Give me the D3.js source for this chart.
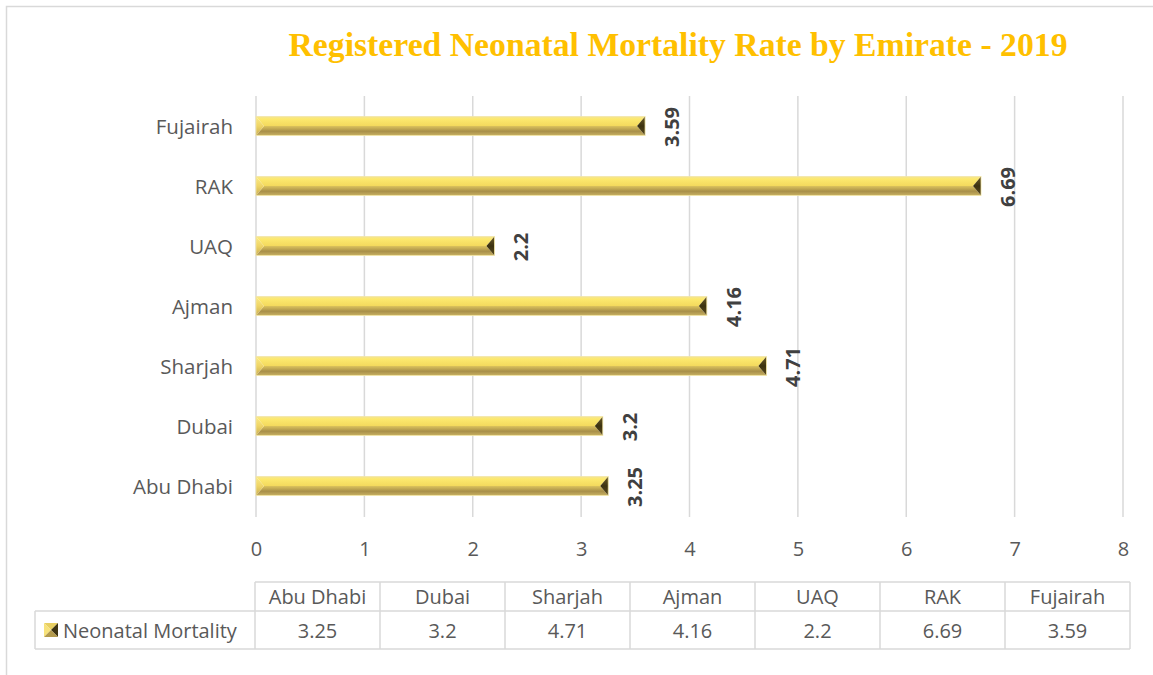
<!DOCTYPE html>
<html>
<head>
<meta charset="utf-8">
<script src="https://cdn.jsdelivr.net/npm/d3@7"></script>
<style>
  html, body { margin: 0; padding: 0; background: #ffffff; }
  svg { display: block; }
</style>
</head>
<body>
<svg id="chart" width="1153" height="675"></svg>
<script>
// ---- data ----
const categories = ["Abu Dhabi", "Dubai", "Sharjah", "Ajman", "UAQ", "RAK", "Fujairah"];
const values = [3.25, 3.2, 4.71, 4.16, 2.2, 6.69, 3.59];
const seriesName = "Neonatal Mortality";
const xTicks = [0, 1, 2, 3, 4, 5, 6, 7, 8];
const title = "Registered Neonatal Mortality Rate by Emirate - 2019";

const data = categories.map((c, i) => ({ cat: c, val: values[i] }));

const svg = d3.select("#chart");
const W = 1153, H = 675;
const FONT = "'Open Sans', 'Noto Sans', sans-serif";
const GRID = "#d9d9d9";
const TXT = "#595959";

// background + outer border
svg.append("rect").attr("x", 0).attr("y", 0).attr("width", W).attr("height", H).attr("fill", "#fff");
svg.append("rect").attr("x", 6.5).attr("y", 6.5).attr("width", W + 20).attr("height", H + 20)
  .attr("fill", "none").attr("stroke", GRID).attr("stroke-width", 1.5);

// defs: gradients
const defs = svg.append("defs");
function vgrad(id, stops) {
  const g = defs.append("linearGradient").attr("id", id)
    .attr("x1", 0).attr("y1", 0).attr("x2", 0).attr("y2", 1);
  stops.forEach(s => g.append("stop").attr("offset", s[0]).attr("stop-color", s[1]));
}
vgrad("topFace", [[0, "#f1e39c"], [0.25, "#fde96f"], [1, "#f3d95d"]]);
vgrad("botFace", [[0, "#dcc35c"], [0.55, "#a88f49"], [1, "#c9b263"]]);
vgrad("leftFace", [[0, "#fbea86"], [0.5, "#efd566"], [1, "#c8ad55"]]);
vgrad("rightFace", [[0, "#6b5a25"], [0.5, "#3c3210"], [1, "#5c4c1e"]]);

// title
svg.append("text")
  .attr("x", 678).attr("y", 56)
  .attr("text-anchor", "middle")
  .attr("font-family", "'Liberation Serif', 'DejaVu Serif', serif")
  .attr("font-weight", "bold")
  .attr("font-size", 33)
  .attr("fill", "#FFC000")
  .attr("textLength", 779)
  .attr("lengthAdjust", "spacingAndGlyphs")
  .text(title);

// scales
const x = d3.scaleLinear().domain([0, 8]).range([256, 1123]);
const y = d3.scaleBand().domain(categories.slice().reverse()).range([96, 516]).padding(0);
const barH = y.bandwidth() * 0.32;

// gridlines
svg.append("g").selectAll("line").data(xTicks).join("line")
  .attr("x1", d => x(d)).attr("x2", d => x(d))
  .attr("y1", 96).attr("y2", 517)
  .attr("stroke", GRID).attr("stroke-width", 1.5);

// x axis
const xAxis = svg.append("g").attr("transform", "translate(0,517)")
  .call(d3.axisBottom(x).tickValues(xTicks).tickFormat(d3.format("d")).tickSize(0).tickPadding(25));
xAxis.select(".domain").remove();
xAxis.selectAll("text").attr("font-family", FONT).attr("font-size", 20).attr("fill", TXT);

// y axis
const yAxis = svg.append("g").attr("transform", "translate(256,0)")
  .call(d3.axisLeft(y).tickSize(0).tickPadding(23));
yAxis.select(".domain").remove();
yAxis.selectAll("text").attr("font-family", FONT).attr("font-size", 20.5).attr("fill", TXT)
  .attr("dy", "0.4em");

// bars with bevel faces
function facePaths(x0, x1, y0, y1) {
  const ym = (y0 + y1) / 2;
  const b = Math.min(8, (x1 - x0) / 2);
  return {
    top: [[x0, y0], [x1, y0], [x1 - b, ym], [x0 + b, ym]],
    bot: [[x0 + b, ym], [x1 - b, ym], [x1, y1], [x0, y1]],
    left: [[x0, y0], [x0 + b, ym], [x0, y1]],
    right: [[x1, y0], [x1 - b, ym], [x1, y1]]
  };
}
const pts = p => p.map(q => q.join(",")).join(" ");

const bars = svg.append("g").selectAll("g").data(data).join("g");
bars.each(function (d) {
  const g = d3.select(this);
  const y0 = y(d.cat) + (y.bandwidth() - barH) / 2;
  const f = facePaths(x(0), x(d.val), y0, y0 + barH);
  g.append("polygon").attr("points", pts(f.top)).attr("fill", "url(#topFace)");
  g.append("polygon").attr("points", pts(f.bot)).attr("fill", "url(#botFace)");
  g.append("polygon").attr("points", pts(f.left)).attr("fill", "url(#leftFace)");
  g.append("polygon").attr("points", pts(f.right)).attr("fill", "url(#rightFace)");
  g.append("rect").attr("x", x(0)).attr("y", y0).attr("width", x(d.val) - x(0)).attr("height", barH)
    .attr("fill", "none").attr("stroke", "#f3e7a6").attr("stroke-width", 0.8);
});

// value labels (rotated)
svg.append("g").selectAll("text").data(data).join("text")
  .attr("transform", d => `translate(${x(d.val) + 27},${y(d.cat) + y.bandwidth() / 2 + 1}) rotate(-90)`)
  .attr("text-anchor", "middle")
  .attr("dy", "0.35em")
  .attr("font-family", FONT)
  .attr("font-weight", "bold")
  .attr("font-size", 20)
  .attr("fill", "#404040")
  .text(d => d.val);

// data table
const tx = d3.scaleBand().domain(categories).range([255, 1130]);
const rowTop = 582, rowMid = 611, rowBot = 649, tableLeft = 35;
const tbl = svg.append("g");
const line = (x1, y1, x2, y2) => tbl.append("line").attr("x1", x1).attr("y1", y1).attr("x2", x2).attr("y2", y2)
  .attr("stroke", GRID).attr("stroke-width", 1.5);
line(255, rowTop, 1130, rowTop);
line(tableLeft, rowMid, 1130, rowMid);
line(tableLeft, rowBot, 1130, rowBot);
line(tableLeft, rowMid, tableLeft, rowBot);
categories.forEach(c => line(tx(c), rowTop, tx(c), rowBot));
line(1130, rowTop, 1130, rowBot);

tbl.selectAll("text.hdr").data(categories).join("text").attr("class", "hdr")
  .attr("x", d => tx(d) + tx.bandwidth() / 2).attr("y", 604)
  .attr("text-anchor", "middle").attr("font-family", FONT).attr("font-size", 20).attr("fill", TXT)
  .text(d => d);
tbl.selectAll("text.val").data(data).join("text").attr("class", "val")
  .attr("x", d => tx(d.cat) + tx.bandwidth() / 2).attr("y", 638)
  .attr("text-anchor", "middle").attr("font-family", FONT).attr("font-size", 20).attr("fill", TXT)
  .text(d => d.val);

// legend key
const kx = 44, ky = 623, ks = 14;
const kc = [kx + ks / 2, ky + ks / 2];
tbl.append("polygon").attr("points", pts([[kx, ky], [kx + ks, ky], kc])).attr("fill", "#e8cf62");
tbl.append("polygon").attr("points", pts([[kx, ky], kc, [kx, ky + ks]])).attr("fill", "#f7e27a");
tbl.append("polygon").attr("points", pts([[kx + ks, ky], kc, [kx + ks, ky + ks]])).attr("fill", "#3e3412");
tbl.append("polygon").attr("points", pts([[kx, ky + ks], kc, [kx + ks, ky + ks]])).attr("fill", "#b39a4c");
tbl.append("text").attr("x", 63).attr("y", 638)
  .attr("font-family", FONT).attr("font-size", 20).attr("fill", TXT)
  .text(seriesName);
</script>
</body>
</html>
